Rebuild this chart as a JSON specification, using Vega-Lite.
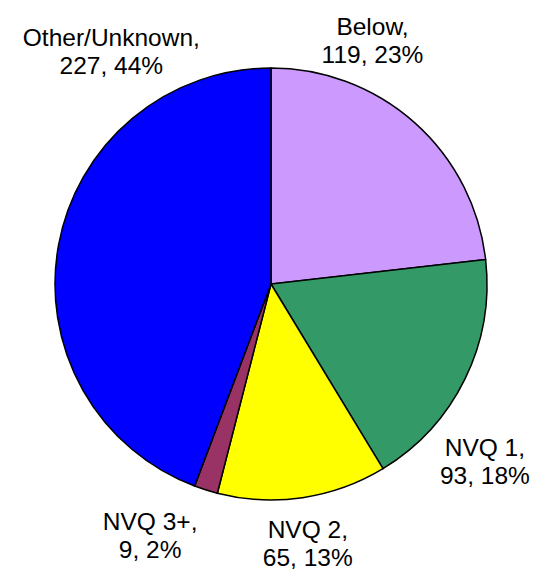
{
  "$schema": "https://vega.github.io/schema/vega-lite/v6.json",
  "width": 542,
  "height": 570,
  "autosize": {"type": "fit", "contains": "padding"},
  "padding": 0,
  "background": "white",
  "view": {"stroke": null},
  "data": {
    "values": [
      {"name": "Below", "count": 119, "label": "Below,\n119, 23%"},
      {"name": "NVQ 1", "count": 93, "label": "NVQ 1,\n93, 18%"},
      {"name": "NVQ 2", "count": 65, "label": "NVQ 2,\n65, 13%"},
      {"name": "NVQ 3+", "count": 9, "label": "NVQ 3+,\n9, 2%"},
      {"name": "Other/Unknown", "count": 227, "label": "Other/Unknown,\n227, 44%"}
    ]
  },
  "encoding": {
    "theta": {"field": "count", "type": "quantitative", "stack": true},
    "order": {"field": "name", "type": "ordinal", "sort": "ascending"}
  },
  "layer": [
    {
      "mark": {"type": "arc", "outerRadius": 216, "stroke": "black", "strokeWidth": 1.5},
      "encoding": {
        "color": {
          "field": "name",
          "type": "nominal",
          "scale": {
            "domain": ["Below", "NVQ 1", "NVQ 2", "NVQ 3+", "Other/Unknown"],
            "range": ["#CC99FF", "#339966", "#FFFF00", "#993366", "#0000FF"]
          },
          "legend": null
        }
      }
    },
    {
      "mark": {
        "type": "text",
        "radius": 265,
        "font": "Liberation Sans, Arial, sans-serif",
        "fontSize": 24.5,
        "lineBreak": "\n",
        "lineHeight": 28,
        "align": "center",
        "baseline": "middle",
        "color": "black",
        "dx": {"expr": "datum.name=='Below' ? -75 : datum.name=='NVQ 1' ? -24 : datum.name=='NVQ 2' ? -2 : datum.name=='NVQ 3+' ? -41 : 101"},
        "dy": {"expr": "datum.name=='Below' ? -58 : datum.name=='NVQ 1' ? 48 : datum.name=='NVQ 2' ? -15 : datum.name=='NVQ 3+' ? -14 : -197"}
      },
      "encoding": {"text": {"field": "label", "type": "nominal"}}
    }
  ]
}
